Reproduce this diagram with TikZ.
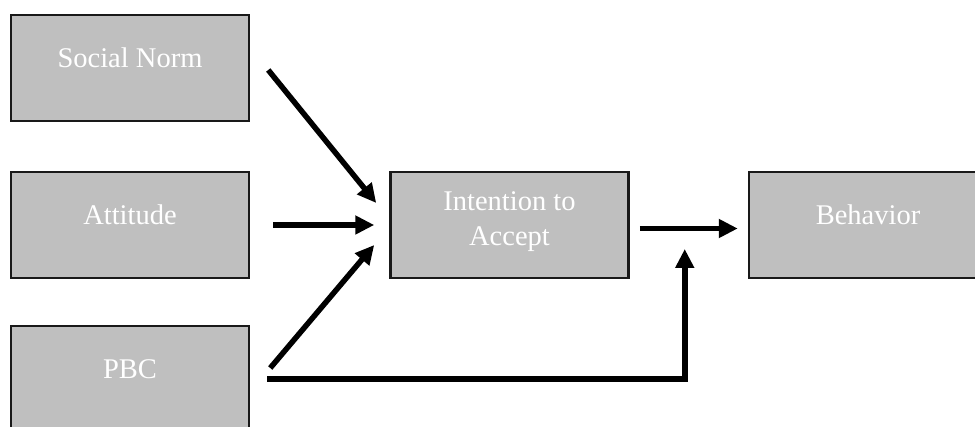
\documentclass[tikz,border=0pt]{standalone}
\usepackage{fontspec}
\setmainfont{Liberation Serif}
\usetikzlibrary{positioning, arrows.meta, calc}

\begin{document}
\begin{tikzpicture}[x=1pt, y=1pt, var/.style={rectangle, draw=black!90, line width=2.5pt, fill=black!25, text=white, inner sep=0pt, minimum width=238pt, minimum height=106pt, text height=53pt, text depth=53pt, align=center, font=\fontsize{28.5}{35}\selectfont}, arr/.style={line width=5.5pt, -{Triangle[length=19pt, width=18pt]}}]
	\useasboundingbox (0,0) rectangle (975,-427);
	\node[var] (SN) at (130,-68) {Social Norm};
	\node[var] (AT) [below=48.5pt of SN] {Attitude};
	\node[var] (PBC) [below=45.5pt of AT] {PBC};
	\node[var, text height=74pt, text depth=32pt] (ITA) [right=139pt of AT] {Intention to\\Accept};
	\node[var] (BEH) [right=118pt of ITA] {Behavior};
	\coordinate (J) at ([shift={(55pt,-24pt)}]ITA.east);
	\draw[arr] ([shift={(18pt,-2pt)}]SN.east) -- ([shift={(-13pt,22pt)}]ITA.west);
	\draw[arr, shorten <=23pt, shorten >=15pt] (AT) -- (ITA);
	\draw[arr] ([shift={(20pt,11pt)}]PBC.east) -- ([shift={(-15pt,-20pt)}]ITA.west);
	\draw[arr] ([shift={(10pt,-3.5pt)}]ITA.east) -- ([shift={(-10pt,-3.5pt)}]BEH.west);
	\draw[arr] ([xshift=17pt]PBC.east) -| (J);
\end{tikzpicture}
\end{document}
